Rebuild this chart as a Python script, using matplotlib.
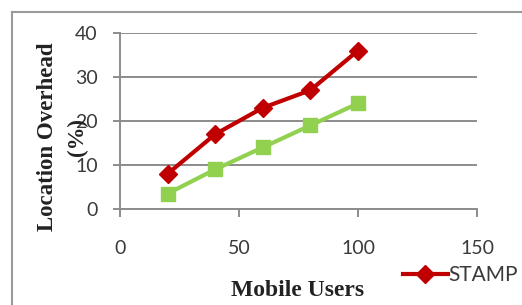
import numpy as np
import matplotlib
matplotlib.use("Agg")
import matplotlib.pyplot as plt
from matplotlib.lines import Line2D

users = [20, 40, 60, 80, 100]
stamp = [8, 17, 23, 27, 36]
other = [3.5, 9, 14, 19, 24]

x_ticks = [0, 50, 100, 150]
y_ticks = [0, 10, 20, 30, 40]

gray = "#8c8c8c"
tick_font = "Lato"
label_font = "Liberation Serif"

fig = plt.figure(figsize=(5.22, 3.05), dpi=100)
ax = fig.add_axes([120 / 522, 1 - 209 / 305, 357 / 522, 176 / 305])

ax.plot(users, stamp, color="#c00000", lw=3, marker="D", ms=9, label="STAMP", zorder=3)
ax.plot(users, other, color="#92d050", lw=3, marker="s", ms=10.5, zorder=3)

ax.set_xlim(0, 150)
ax.set_ylim(0, 40)
ax.set_xticks(x_ticks)
ax.set_yticks(y_ticks)
ax.grid(axis="y", color=gray, lw=1.4)
ax.set_axisbelow(True)

for s in ["top", "right"]:
    ax.spines[s].set_visible(False)
for s in ["left", "bottom"]:
    ax.spines[s].set_color(gray)
    ax.spines[s].set_linewidth(1.4)

ax.tick_params(axis="x", colors=gray, length=6, width=1.4, pad=16, labelcolor="#3a3a3a")
ax.tick_params(axis="y", colors=gray, length=5, width=1.4, pad=11, labelcolor="#3a3a3a")
for lab in ax.get_xticklabels() + ax.get_yticklabels():
    lab.set_fontfamily(tick_font)
    lab.set_fontsize(14)

fig.text(298 / 522, 1 - 290 / 305, "Mobile Users", ha="center", va="center",
         fontfamily=label_font, fontweight="bold", fontsize=17, color="#222222")
# y label is two centred lines; the second one sits over the "20" as in the original
fig.text(48 / 522, 1 - 137 / 305, "Location Overhead", ha="center", va="center",
         rotation=90, fontfamily=label_font, fontweight="bold", fontsize=16.5,
         color="#222222")
fig.text(77 / 522, 1 - 137 / 305, "(%)", ha="center", va="center",
         rotation=90, fontfamily=label_font, fontweight="bold", fontsize=16.5,
         color="#222222")

fig.legend(loc="center right", bbox_to_anchor=(1.0, 1 - 275 / 305), frameon=False,
           prop={"family": tick_font, "size": 15}, handlelength=2.2, handletextpad=0.0,
           borderpad=0, borderaxespad=0.2, labelcolor="#3a3a3a")

# outer frame of the original figure
fig.add_artist(Line2D([12 / 522, 12 / 522], [0, 1 - 12 / 305], color="#9a9a9a", lw=1.5))
fig.add_artist(Line2D([12 / 522, 1], [1 - 12 / 305, 1 - 12 / 305], color="#9a9a9a", lw=1.5))

fig.savefig("out.png", dpi=100)
